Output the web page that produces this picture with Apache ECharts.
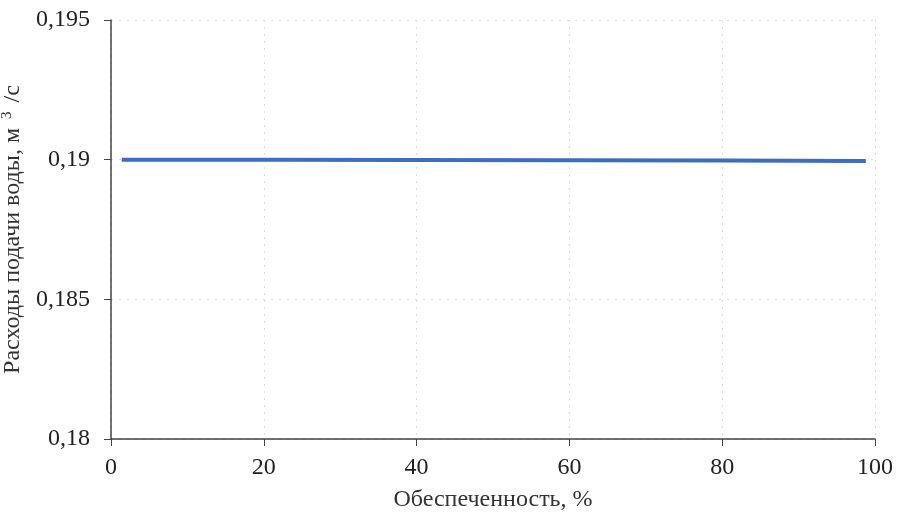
<!DOCTYPE html>
<html><head><meta charset="utf-8">
<script src="https://cdn.jsdelivr.net/npm/echarts@6/dist/echarts.min.js"></script>
<style>html,body{margin:0;padding:0;background:#fff}#c{width:898px;height:520px}</style>
</head><body><div id="c"></div>
<script>
const supplyPercent = [1.4, 20, 40, 60, 80, 98.8];
const waterFlow = [0.19, 0.19, 0.18999, 0.18998, 0.18997, 0.18995];
const xTitle = 'Обеспеченность, %';
const yTitleParts = ['Расходы подачи воды, м ', '3', ' /с'];

const chart = echarts.init(document.getElementById('c'));
const font = 'Liberation Serif';
const fmt = v => String(parseFloat(v.toFixed(3))).replace('.', ',');
chart.setOption({
  animation: false,
  grid: {left: 111, right: 23, top: 20, bottom: 81, containLabel: false, outerBoundsMode: 'none'},
  xAxis: {
    type: 'value', min: 0, max: 100, interval: 20,
    name: xTitle, nameLocation: 'middle', nameGap: 49,
    nameTextStyle: {fontFamily: font, fontSize: 24, color: '#333'},
    axisLine: {lineStyle: {color: '#444', width: 1.5}},
    axisTick: {show: true, length: 7, lineStyle: {color: '#444'}},
    axisLabel: {fontFamily: font, fontSize: 24, color: '#222', margin: 17},
    splitLine: {show: true, lineStyle: {color: '#dcdce6', type: [2, 5], width: 1}}
  },
  yAxis: {
    type: 'value', min: 0.18, max: 0.195, interval: 0.005,
    name: '{a|' + yTitleParts[0] + '}{s|' + yTitleParts[1] + '}{a|' + yTitleParts[2] + '}',
    nameLocation: 'middle', nameGap: 80, nameRotate: 90,
    nameTextStyle: {fontFamily: font, fontSize: 24, color: '#333',
      rich: {a: {fontFamily: font, fontSize: 24, color: '#333'},
             s: {fontFamily: font, fontSize: 15, color: '#333', padding: [0, 3, 12, 3]}}},
    axisLine: {show: true, lineStyle: {color: '#444', width: 1.5}},
    axisTick: {show: true, length: 7, lineStyle: {color: '#444'}},
    axisLabel: {fontFamily: font, fontSize: 24, color: '#222', margin: 21, formatter: fmt},
    splitLine: {show: true, lineStyle: {color: '#dcdce6', type: [2, 6], width: 1}}
  },
  series: [{
    type: 'line', data: supplyPercent.map((x, i) => [x, waterFlow[i]]),
    showSymbol: false, lineStyle: {color: '#3d6cc4', width: 4}
  }]
});
</script></body></html>
